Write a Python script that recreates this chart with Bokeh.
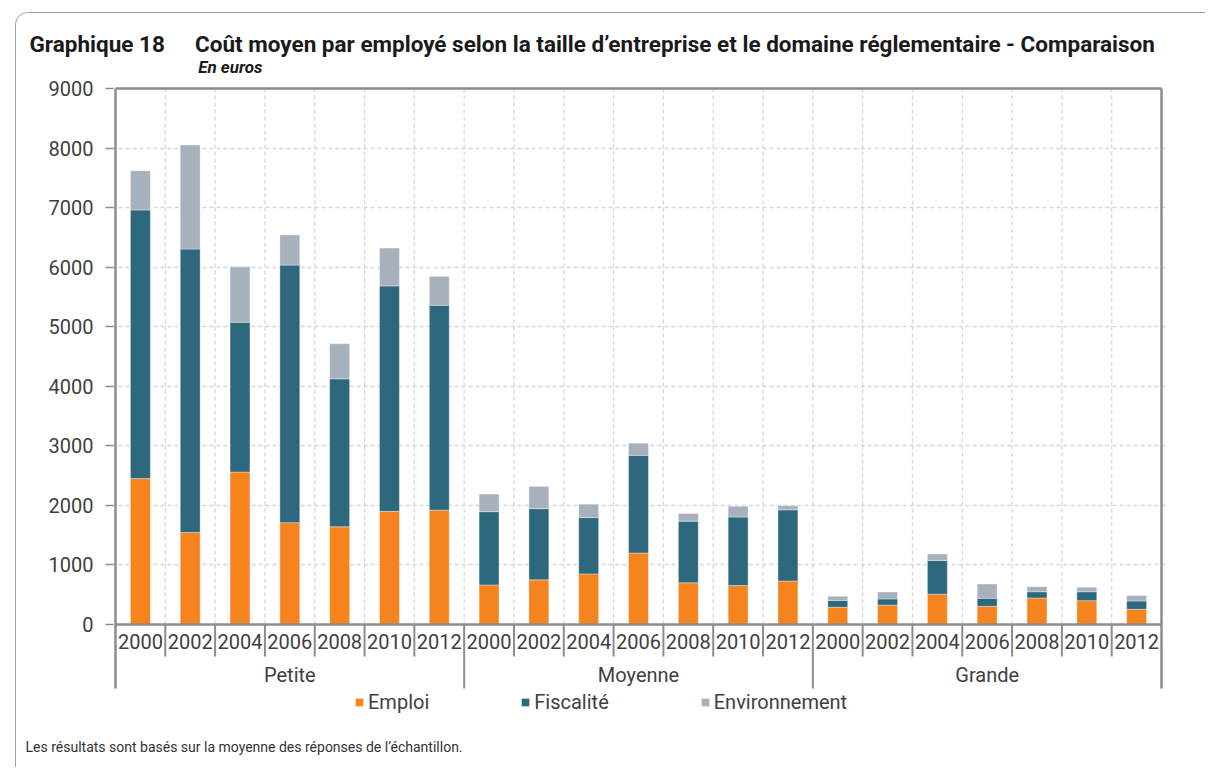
from bokeh.plotting import figure
from bokeh.models import (FactorRange, Range1d, FixedTicker, Legend, LegendItem,
                          ColumnDataSource, Title, Label)
from bokeh.core.properties import value
from bokeh.embed import file_html
from bokeh.resources import INLINE

# ---------------- data ----------------
groups = ["Petite", "Moyenne", "Grande"]
years = ["2000", "2002", "2004", "2006", "2008", "2010", "2012"]
series = ["Emploi", "Fiscalité", "Environnement"]
colors = ["#F5841F", "#2E687D", "#A7B1BD"]

emploi = [2450, 1545, 2560, 1710, 1640, 1900, 1920,
          665, 750, 850, 1200, 700, 655, 730,
          290, 325, 510, 305, 445, 400, 255]
fiscalite = [4510, 4760, 2515, 4325, 2485, 3785, 3440,
             1230, 1195, 945, 1640, 1035, 1150, 1195,
             115, 105, 565, 135, 105, 150, 140]
environnement = [660, 1745, 930, 505, 590, 635, 485,
                 295, 375, 225, 205, 130, 180, 70,
                 70, 115, 110, 240, 85, 75, 90]

y_ticks = [0, 1000, 2000, 3000, 4000, 5000, 6000, 7000, 8000, 9000]

title_left = "Graphique 18"
title_main = "Coût moyen par employé selon la taille d’entreprise et le domaine réglementaire - Comparaison"
subtitle = "En euros"
footer = "Les résultats sont basés sur la moyenne des réponses de l’échantillon."

# ---------------- layout helpers ----------------
FONT = "Roboto"
W, H = 1205, 767
PXX = 50.0                  # px per category
PY = 536.0 / 9000.0         # px per unit
X0_PAGE = 113.0             # page x of category boundary 0
Y0_PAGE = 624.0             # page y of value 0
FRAME_L, FRAME_R, FRAME_T, FRAME_B = 111, 1165, 52, 724


def xd(px):
    return (px - X0_PAGE) / PXX


def yd(py):
    return (Y0_PAGE - py) / PY


factors = [(g, y) for g in groups for y in years]
n = len(factors)

x_range = FactorRange(*factors, factor_padding=0, group_padding=0,
                      range_padding=0.08, range_padding_units="absolute")
y_range = Range1d(yd(FRAME_B), yd(FRAME_T))

border_svg = ("url(\"data:image/svg+xml;utf8,<svg xmlns='http://www.w3.org/2000/svg' "
              "width='1205' height='767'><rect x='15.5' y='12.5' width='1400' height='1000' "
              "rx='12' ry='12' fill='none' stroke='%23A0A0A0' stroke-width='1'/></svg>\")")

p = figure(width=W, height=H, x_range=x_range, y_range=y_range, title=None,
           output_backend="svg", toolbar_location=None, x_axis_location=None,
           min_border_left=FRAME_L, min_border_right=W - FRAME_R,
           min_border_top=FRAME_T, min_border_bottom=H - FRAME_B,
           outline_line_color=None, background_fill_color="white",
           border_fill_alpha=0,
           styles={"background-color": "white", "background-image": border_svg,
                   "background-repeat": "no-repeat"})

# y axis
ax = p.yaxis[0]
ax.ticker = FixedTicker(ticks=y_ticks)
ax.axis_line_color = None
ax.major_tick_line_color = "#8C8C8C"
ax.major_tick_line_width = 1.5
ax.major_tick_out = 6
ax.major_tick_in = 2
ax.minor_tick_line_color = None
ax.major_label_text_font = FONT
ax.major_label_text_font_size = "20px"
ax.major_label_text_color = "#404040"
ax.major_label_standoff = 12

p.ygrid.ticker = FixedTicker(ticks=y_ticks[1:-1])
p.ygrid.grid_line_color = "#D6D6D6"
p.ygrid.grid_line_dash = "4 3"
p.ygrid.grid_line_width = 1.3
p.ygrid.bounds = (0, n)
p.xgrid.visible = False

# vertical dashed gridlines at category boundaries
bounds = list(range(1, n))
p.segment(x0=bounds, x1=bounds, y0=[0] * len(bounds), y1=[y_ticks[-1]] * len(bounds),
          line_color="#D6D6D6", line_dash="4 3", line_width=1.3)

# bars
src = ColumnDataSource(dict(x=factors, Emploi=emploi, **{"Fiscalité": fiscalite},
                            Environnement=environnement))
rs = p.vbar_stack(series, x="x", width=0.4, color=colors, source=src,
                  line_color="white", line_width=0.6, line_alpha=0.6)

# frame lines
gsize = len(years)
bottom_y = yd(688)
p.segment(x0=[0, 0], x1=[n, n], y0=[0, y_ticks[-1]], y1=[0, y_ticks[-1]],
          line_color="#8C8C8C", line_width=2.5)
p.segment(x0=[0, n], x1=[0, n], y0=[bottom_y, bottom_y], y1=[y_ticks[-1], y_ticks[-1]],
          line_color="#8C8C8C", line_width=2.5)
# year separators (short)
ysep = [b for b in bounds if b % gsize != 0]
p.segment(x0=ysep, x1=ysep, y0=[0] * len(ysep), y1=[yd(656)] * len(ysep),
          line_color="#8C8C8C", line_width=2)
# group separators (long)
gsep = [b for b in range(gsize, n, gsize)]
p.segment(x0=gsep, x1=gsep, y0=[0] * len(gsep), y1=[bottom_y] * len(gsep),
          line_color="#8C8C8C", line_width=2)

# category labels
lab_src = ColumnDataSource(dict(x=factors, y=[yd(641)] * n, t=[f[1] for f in factors]))
p.text(x="x", y="y", text="t", source=lab_src, text_align="center",
       text_baseline="middle", text_font=value(FONT), text_font_size="20px",
       text_color="#404040")
grp_src = ColumnDataSource(dict(x=groups, y=[yd(674)] * len(groups), t=groups))
p.text(x="x", y="y", text="t", source=grp_src, text_align="center",
       text_baseline="middle", text_font=value(FONT), text_font_size="20px",
       text_color="#404040")

# legend (inside the frame, below the axis labels)
legend = Legend(items=[LegendItem(label=s, renderers=[r]) for s, r in zip(series, rs)],
                orientation="horizontal", location=(243, 10),
                glyph_width=10, glyph_height=10, label_standoff=4, spacing=91,
                padding=0, margin=0, border_line_color=None,
                background_fill_alpha=0, label_text_font=FONT,
                label_text_font_size="20px", label_text_color="#404040")
p.add_layout(legend, "center")

# subtitle (inside the frame area, above the plot)
p.add_layout(Label(x=xd(196), y=yd(66), text=subtitle, text_font=FONT,
                   text_font_style="bold italic", text_font_size="17px",
                   text_baseline="middle", text_color="#1A1A1A"))

# title and footer
p.add_layout(Title(text=title_left + "\u00a0" * 5 + "\u200a" + title_main, align="left",
                   offset=29 - FRAME_L, standoff=-9, text_font=FONT,
                   text_font_style="bold", text_font_size="22.5px",
                   text_color="#1A1A1A"), "above")
p.add_layout(Title(text=footer, align="left", offset=25 - FRAME_L, standoff=24,
                   text_font=FONT, text_font_style="normal", text_font_size="14px",
                   text_color="#333333"), "below")

open("out.html", "w").write(file_html(p, INLINE))
